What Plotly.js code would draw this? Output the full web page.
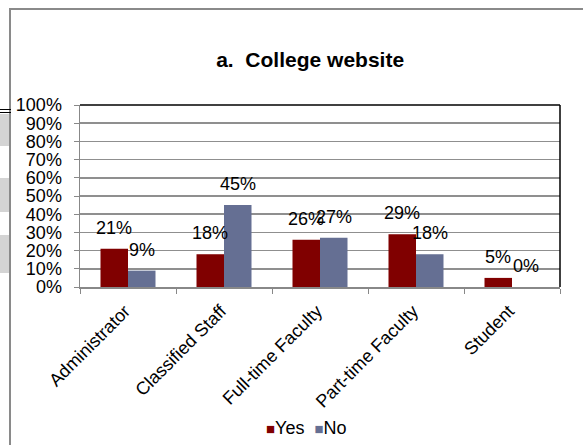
<!DOCTYPE html>
<html><head><meta charset="utf-8">
<script src="https://cdn.plot.ly/plotly-3.0.1.min.js"></script>
<style>
html,body{margin:0;padding:0;background:#fff;width:583px;height:445px;overflow:hidden;font-family:"Liberation Sans",Arial,sans-serif}
#frame{position:absolute;left:9px;top:8px;width:600px;height:460px;border-left:2px solid #8a8a8a;border-top:2px solid #8a8a8a;box-sizing:border-box}
.gb{position:absolute;left:0;width:9px;background:#d4d4d4}
.bl{position:absolute;left:0;width:11px;height:1px;background:#000}
#chart{position:absolute;left:0;top:0;width:583px;height:445px}
</style></head>
<body>
<div id="frame"></div>
<div class="bl" style="top:109px"></div>
<div class="bl" style="top:112px"></div>
<div class="gb" style="top:114px;height:32px"></div>
<div class="gb" style="top:178px;height:34px"></div>
<div class="gb" style="top:235px;height:38px"></div>
<div id="chart"></div>
<script>
const categories = ["Administrator","Classified Staff","Full-time Faculty","Part-time Faculty","Student"];
const yesValues = [21,18,26,29,5];
const noValues = [9,45,27,18,0];
const yTickVals = [0,10,20,30,40,50,60,70,80,90,100];
const seriesNames = ["Yes","No"];
const colors = ["#800000","#656f93"];

const font = "Liberation Sans, Arial, sans-serif";
const traces = [
  {type:"bar", name:seriesNames[0], x:categories, y:yesValues, marker:{color:colors[0]}},
  {type:"bar", name:seriesNames[1], x:categories, y:noValues, marker:{color:colors[1]}}
];
const annotations = [];
const shift = 13.75;
[yesValues, noValues].forEach((vals, si) => {
  vals.forEach((v, i) => {
    annotations.push({x:categories[i], y:v, xref:"x", yref:"y", text:v+"%", showarrow:false,
      xshift: si===0 ? -shift : shift, yshift:21, yanchor:"middle", xanchor:"center",
      font:{family:font, size:18, color:"#000"}});
  });
});
// legend drawn as a text line built from the series names and colours
annotations.push({xref:"paper", yref:"paper", x:0.471, y:-0.775, xanchor:"center", yanchor:"middle",
  showarrow:false, font:{family:font, size:18, color:"#000"},
  text: seriesNames.map((n,i)=>'<span style="color:'+colors[i]+';font-size:15px">■</span>'+n).join('&nbsp;&nbsp;')});

const layout = {
  width:583, height:445,
  margin:{l:80, r:23, t:105, b:158, pad:0},
  paper_bgcolor:"rgba(0,0,0,0)", plot_bgcolor:"#fff",
  barmode:"group", bargap:0.427, bargroupgap:0,
  title:{text:"<b>a.  College website</b>", font:{family:font, size:21, color:"#000"},
    xref:"container", x:0.532, xanchor:"center", yref:"container", y:0.865, yanchor:"middle"},
  xaxis:{type:"category", tickson:"boundaries", ticks:"outside", ticklen:5, tickcolor:"#888",
    showline:true, linecolor:"#888", linewidth:1.5, showgrid:false, tickangle:-45, automargin:false,
    ticklabelstandoff:5, ticklabelshift:-3,
    tickfont:{family:font, size:18, color:"#000"}},
  yaxis:{range:[0,100], tickvals:yTickVals, ticktext:yTickVals.map(v=>v+"%"), ticks:"outside", ticklen:5,
    tickcolor:"#888", showline:true, linecolor:"#888", linewidth:1.5, showgrid:true, gridcolor:"#8f8f8f",
    gridwidth:1.5, zeroline:false, automargin:false, tickfont:{family:font, size:18, color:"#000"}, ticklabelstandoff:8},
  showlegend:false,
  shapes:[
    {type:"line", xref:"paper", yref:"paper", x0:0, x1:1, y0:1, y1:1, line:{color:"#000", width:1.5}},
    {type:"line", xref:"paper", yref:"paper", x0:1, x1:1, y0:0, y1:1, line:{color:"#000", width:1.5}}
  ],
  annotations: annotations
};
Plotly.newPlot("chart", traces, layout, {displayModeBar:false, staticPlot:true});
</script>
</body></html>
